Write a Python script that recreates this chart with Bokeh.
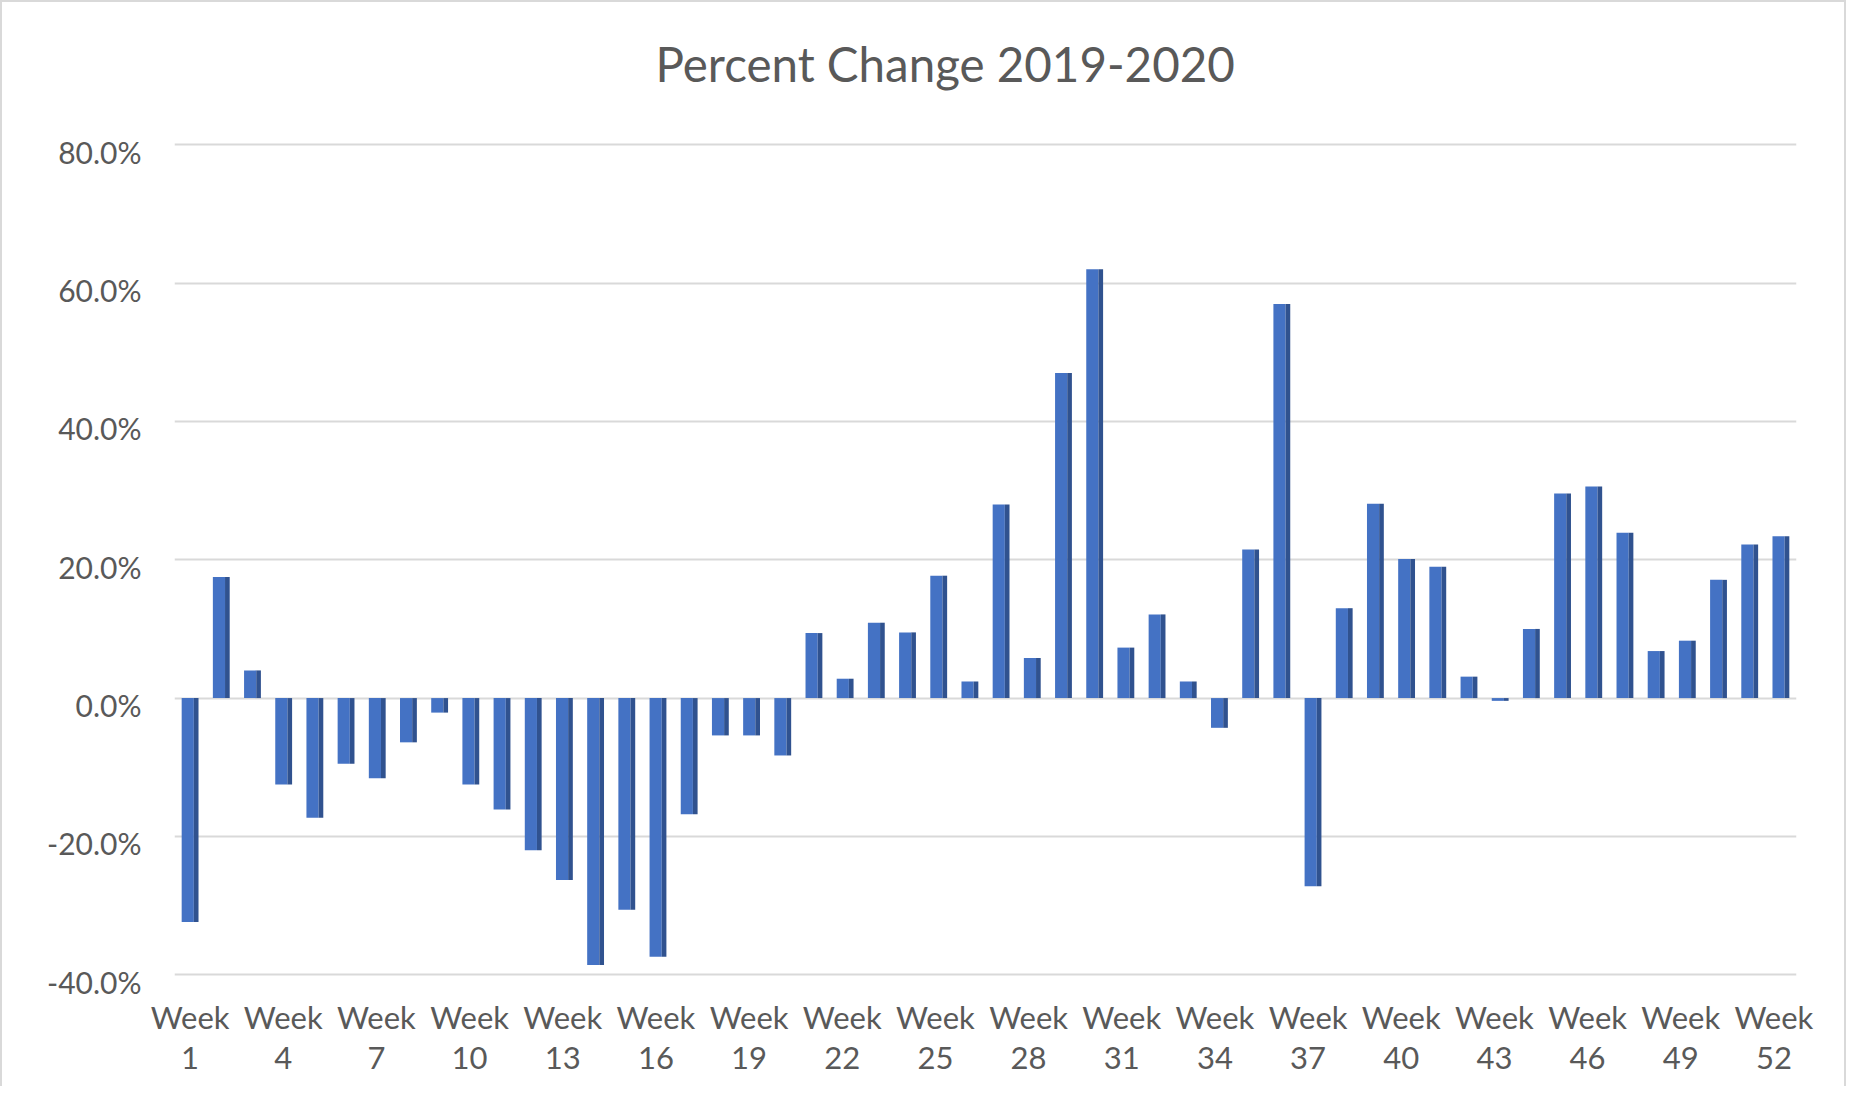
from bokeh.plotting import figure
from bokeh.models import Range1d, LinearAxis, FixedTicker, PrintfTickFormatter, ColumnDataSource
from bokeh.transform import dodge
from bokeh.embed import file_html
from bokeh.resources import INLINE

# ---- data ----
weeks = list(range(1, 53))
pct_change = [
    -32.4, 17.5, 4.0, -12.5, -17.3, -9.5, -11.6, -6.4, -2.1, -12.5,
    -16.1, -22.0, -26.3, -38.6, -30.6, -37.4, -16.8, -5.4, -5.4, -8.3,
    9.4, 2.8, 10.9, 9.5, 17.7, 2.4, 28.0, 5.8, 47.0, 62.0,
    7.3, 12.1, 2.4, -4.3, 21.5, 57.0, -27.2, 13.0, 28.1, 20.1,
    19.0, 3.1, -0.4, 10.0, 29.6, 30.6, 23.9, 6.8, 8.3, 17.1,
    22.2, 23.4,
]
label_weeks = weeks[::3]          # Week 1, 4, 7, ... 52
y_ticks = [-40, -20, 0, 20, 40, 60, 80]
title_text = "Percent Change 2019-2020"

FONT = "Lato"
TXT = "#595959"

src = ColumnDataSource(dict(week=weeks, pct=pct_change))

p = figure(width=1846, height=1086, output_backend="svg", toolbar_location=None,
           x_range=Range1d(0.5, 52.5), y_range=Range1d(-42, 87),
           min_border_left=172, min_border_right=52, min_border_top=94,
           min_border_bottom=100)
p.background_fill_color = "white"
p.border_fill_color = "white"
p.outline_line_color = None
p.styles = {"border-left": "2px solid #d9d9d9", "border-top": "2px solid #d9d9d9",
            "border-right": "2px solid #d9d9d9", "box-sizing": "border-box"}

# title
p.title.text = title_text
p.title.align = "left"
p.title.vertical_align = "bottom"
p.title.offset = 481
p.title.standoff = 10
p.title.text_font = FONT
p.title.text_font_size = "47.5px"
p.title.text_font_style = "normal"
p.title.text_color = TXT

# grid
p.xgrid.visible = False
p.ygrid.ticker = FixedTicker(ticks=y_ticks)
p.ygrid.grid_line_color = "#d9d9d9"
p.ygrid.grid_line_width = 2

# bars (front face + darker side for the 3-D look)
p.vbar(x=dodge("week", -0.075, range=p.x_range), top="pct", bottom=0, width=0.39,
       source=src, fill_color="#4472C4", line_color=None)
p.vbar(x=dodge("week", 0.195, range=p.x_range), top="pct", bottom=0, width=0.15,
       source=src, fill_color="#30528F", line_color=None)

# y axis: hide main, use slightly shifted label axis
p.yaxis.visible = False
p.extra_y_ranges = {"lbl": Range1d(-42 + 1.0, 87 + 1.0)}
yax = LinearAxis(y_range_name="lbl", ticker=FixedTicker(ticks=y_ticks),
                 formatter=PrintfTickFormatter(format="%.1f%%"))
yax.axis_line_color = None
yax.major_tick_line_color = None
yax.minor_tick_line_color = None
yax.major_label_standoff = 27
yax.major_label_text_font = FONT
yax.major_label_text_font_size = "30px"
yax.major_label_text_color = TXT
p.add_layout(yax, "left")

# x axes: "Week" line and number line (slightly compressed label scale, as in the 3-D original)
p.extra_x_ranges = {"lblx": Range1d(0.498, 52.727)}
p.xaxis.visible = False
xa = LinearAxis(x_range_name="lblx", ticker=FixedTicker(ticks=label_weeks),
                major_label_overrides={w: "Week" for w in label_weeks})
xb = LinearAxis(x_range_name="lblx", ticker=FixedTicker(ticks=label_weeks),
                major_label_overrides={w: str(w) for w in label_weeks})
p.add_layout(xa, "below")
p.add_layout(xb, "below")
for ax, so in ((xa, 3), (xb, 2)):
    ax.axis_line_color = None
    ax.major_tick_line_color = None
    ax.minor_tick_line_color = None
    ax.major_label_standoff = so
    ax.major_label_text_font = FONT
    ax.major_label_text_font_size = "31px"
    ax.major_label_text_color = TXT

open("out.html", "w").write(file_html(p, INLINE))
